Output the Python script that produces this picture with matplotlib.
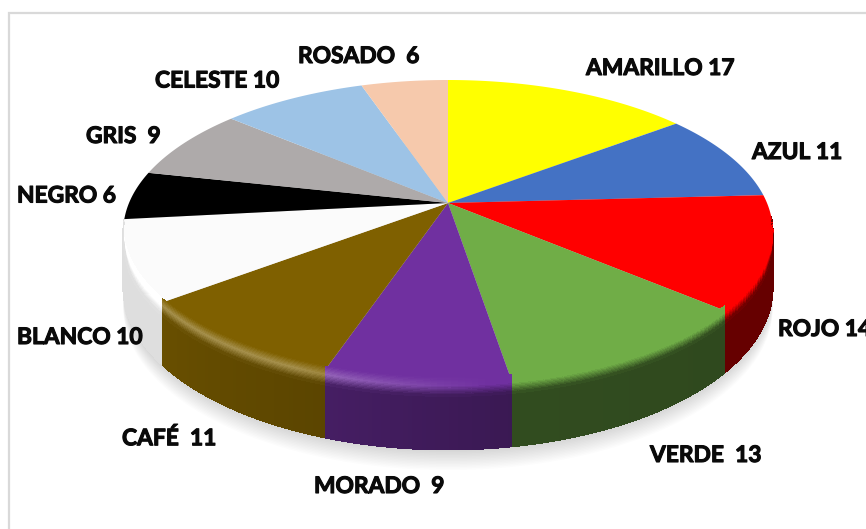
#!/usr/bin/env python3
"""Pie chart of favourite colours, drawn in perspective with a shaded rim."""

import matplotlib

matplotlib.use("Agg")
import matplotlib.patheffects as pe
import matplotlib.pyplot as plt
import numpy as np
from matplotlib.collections import PolyCollection
from matplotlib.colors import to_rgb
from matplotlib.patches import Polygon

labels = ["AMARILLO 17", "AZUL 11", "ROJO 14", "VERDE  13", "MORADO  9", "CAFÉ  11",
          "BLANCO 10", "NEGRO 6", "GRIS  9", "CELESTE 10", "ROSADO  6"]
values = [17, 11, 14, 13, 9, 11, 10, 6, 9, 10, 6]
colors = ["#FFFF00", "#4472C4", "#FF0000", "#70AD47", "#7030A0", "#7F6000",
          "#FBFBFB", "#000000", "#AEAAAA", "#9DC3E6", "#F6C9AC"]
# rim shade at the clockwise start and end of each slice
shade_start = [0.5, 0.45, 0.40, 0.42, 0.52, 0.72, 0.88, 0.5, 0.5, 0.5, 0.5]
shade_end = [0.45, 0.40, 0.40, 0.44, 0.62, 0.82, 0.90, 0.5, 0.5, 0.5, 0.5]
label_x = [586, 752, 778, 650, 314, 122, 17, 17, 86, 155, 298]
label_y = [68.5, 152.5, 329.5, 455.5, 486.5, 438.5, 337.5, 196, 136.5, 81, 56.5]

W, H = 866, 529
CX, CY = 448, 203
RX, RY, PERSP = 319, 146, 0.187
DEPTH = 54.5
BEVEL = 11


def project(theta):
    """Map clockwise-from-top angle on the disc to pixels."""
    x, y = np.sin(theta), np.cos(theta)
    w = 1 + PERSP * y
    return CX + RX * x / w, CY - RY * y / w, w


def rim_drop(theta, amount):
    return amount / project(theta)[2]


fig = plt.figure(figsize=(W / 100, H / 100), dpi=100)
ax = fig.add_axes([0, 0, 1, 1])
ax.set_xlim(0, W)
ax.set_ylim(H, 0)
ax.axis("off")

# chart frame, running off the right and bottom of the crop
ax.plot([9, 9, W + 5], [H + 5, 13, 13], color="#D9D9D9", lw=1.6, solid_joinstyle="miter")

# soft shadow under the disc
t_all = np.linspace(0, 2 * np.pi, 361)
px, py, _ = project(t_all)
drop = rim_drop(t_all, DEPTH)
for off in np.arange(1, 21, 1.5):
    ax.add_patch(Polygon(np.c_[px, py + drop + off], closed=True, fc="#000000",
                         ec="none", alpha=0.012, zorder=1))

edges = np.cumsum([0] + values) / sum(values) * 2 * np.pi

# side wall
side_polys, side_cols = [], []
for i, col in enumerate(colors):
    if col == "#000000":
        continue  # black slice sits behind the visible wall
    base = np.array(to_rgb(col))
    a, b = edges[i], edges[i + 1]
    steps = np.linspace(a, b, max(int((b - a) * 90), 3))
    for j, (t0, t1) in enumerate(zip(steps[:-1], steps[1:])):
        if np.cos(t0) > -0.1 and np.cos(t1) > -0.1:
            continue
        x0, y0, _ = project(t0)
        x1, y1, _ = project(t1)
        d0, d1 = rim_drop(t0, DEPTH), rim_drop(t1, DEPTH)
        frac = j / max(len(steps) - 2, 1)
        shade = shade_start[i] + (shade_end[i] - shade_start[i]) * frac
        c = base * shade if col != "#FBFBFB" else np.array([0.87, 0.87, 0.87])
        side_polys.append([(x0, y0), (x1, y1), (x1, y1 + d1), (x0, y0 + d0)])
        side_cols.append(c)
ax.add_collection(PolyCollection(side_polys, facecolors=side_cols, edgecolors=side_cols,
                                 linewidths=0.5, antialiaseds=False, zorder=2))

# top face
for i, col in enumerate(colors):
    steps = np.linspace(edges[i], edges[i + 1], 80)
    x, y, _ = project(steps)
    ax.add_patch(Polygon(np.r_[[(CX, CY)], np.c_[x, y]], closed=True, fc=col, ec="none",
                         zorder=3, antialiased=True))

# rounded bevel between top face and side wall
bevel_polys, bevel_cols = [], []
layers = np.linspace(-0.35, 1, 15)
for i, col in enumerate(colors):
    base = np.array(to_rgb(col))
    a, b = edges[i], edges[i + 1]
    steps = np.linspace(a, b, max(int((b - a) * 60), 3))
    for j, (t0, t1) in enumerate(zip(steps[:-1], steps[1:])):
        mid = (t0 + t1) / 2
        if np.cos(mid) > -0.12:
            continue
        fade = np.clip((-np.cos(mid) - 0.12) / 0.25, 0, 1)
        glow = np.clip((0.1 - np.sin(mid)) / 0.5, 0, 1) * 0.30
        frac = j / max(len(steps) - 2, 1)
        shade = shade_start[i] + (shade_end[i] - shade_start[i]) * frac
        side = base * shade if col != "#FBFBFB" else np.array([0.87, 0.87, 0.87])
        if col == "#FBFBFB":
            base_c = np.array([1.0, 1.0, 1.0])
        else:
            base_c = base
        x0, y0, _ = project(t0)
        x1, y1, _ = project(t1)
        d0, d1 = rim_drop(t0, BEVEL) * fade, rim_drop(t1, BEVEL) * fade
        for u0, u1 in zip(layers[:-1], layers[1:]):
            u = (u0 + u1) / 2
            peak = base_c + (1 - base_c) * glow
            if u < 0.3:
                c = base_c + (peak - base_c) * (u + 0.35) / 0.65
            else:
                c = peak + (side - peak) * (u - 0.3) / 0.7
            bevel_polys.append([(x0, y0 + u0 * d0), (x1, y1 + u0 * d1),
                                (x1, y1 + u1 * d1), (x0, y0 + u1 * d0)])
            bevel_cols.append(np.clip(c, 0, 1))
ax.add_collection(PolyCollection(bevel_polys, facecolors=bevel_cols, edgecolors=bevel_cols,
                                 linewidths=0.4, antialiaseds=False, zorder=4))

for name, lx, ly in zip(labels, label_x, label_y):
    txt = ax.text(lx, ly, name, ha="left", va="center", fontsize=16.4, fontweight="bold",
                  family="Lato", color="#0A0A0A", zorder=5, clip_on=False)
    txt.set_path_effects([pe.withStroke(linewidth=0.8, foreground="#0A0A0A")])

fig.savefig("out.png", dpi=100, facecolor="white")
